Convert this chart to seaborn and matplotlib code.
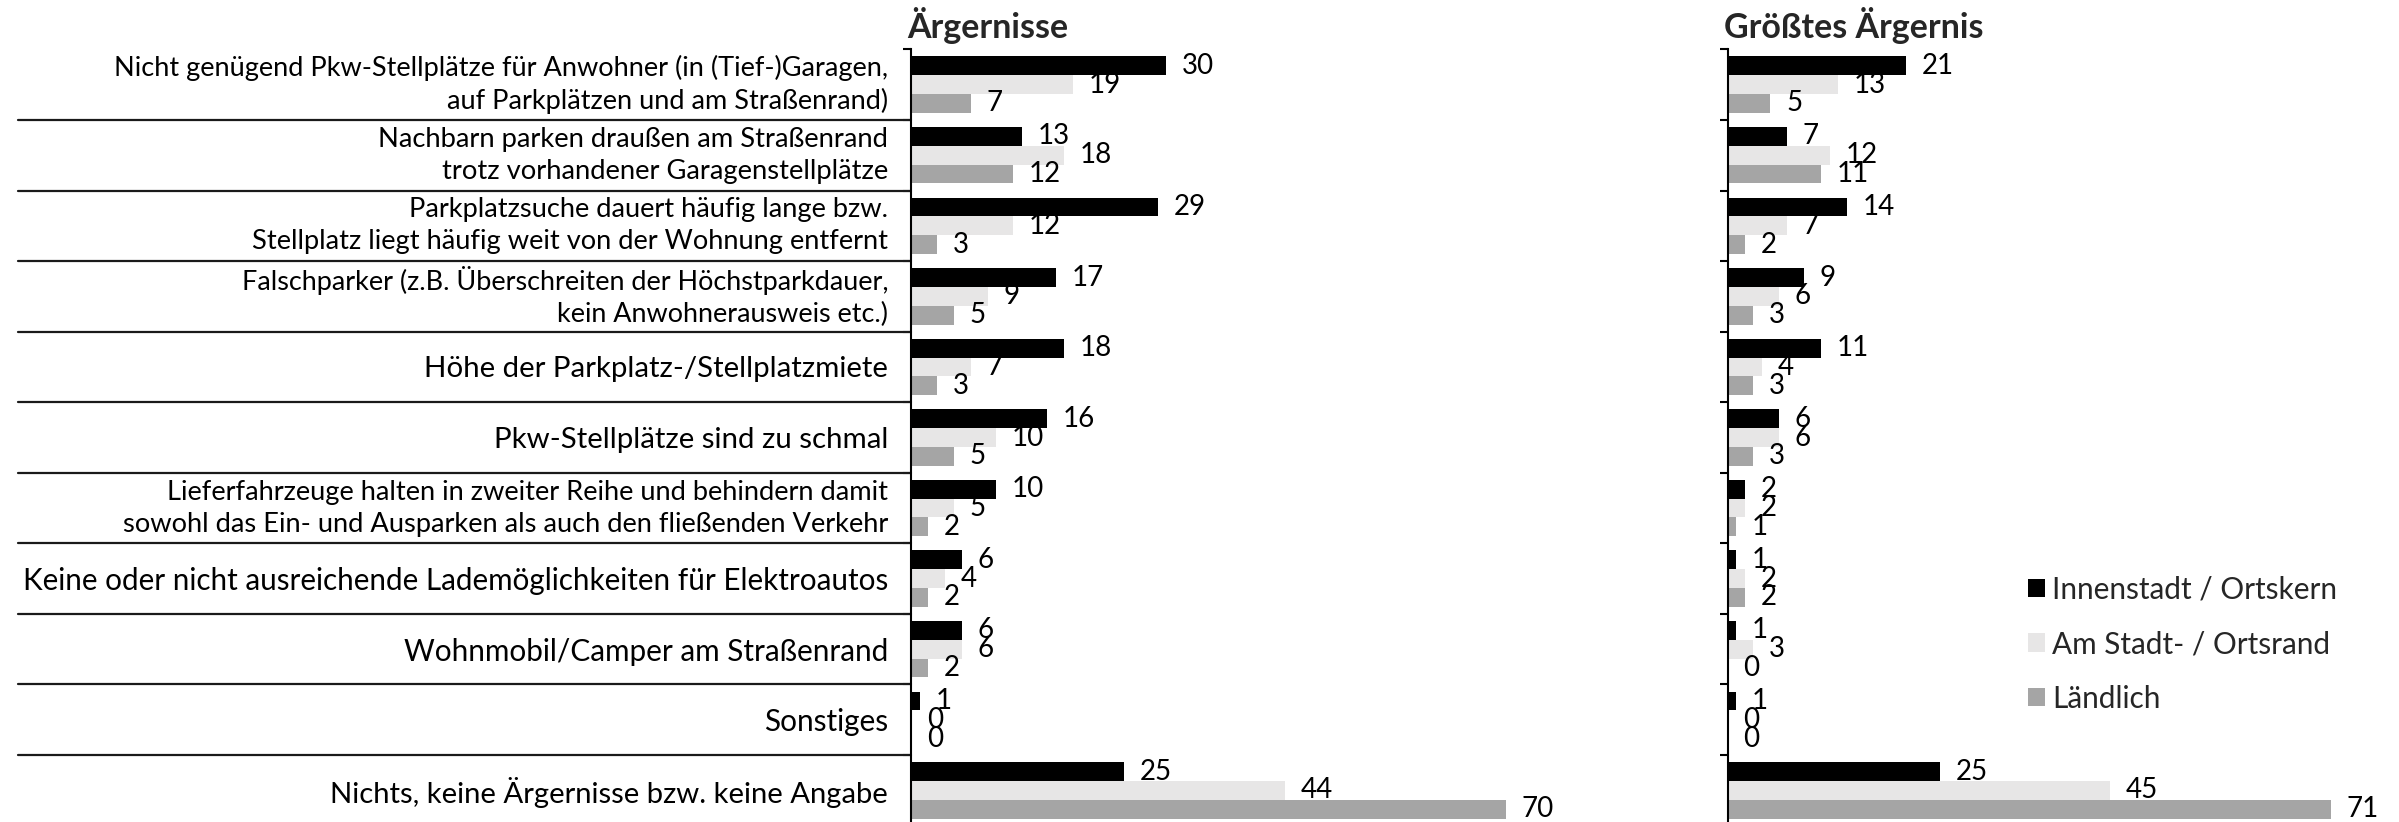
import numpy as np
import pandas as pd
import matplotlib
matplotlib.use("Agg")
import matplotlib.pyplot as plt
import matplotlib.transforms as mtransforms
import seaborn as sns

categories = [
    "Nicht genügend Pkw-Stellplätze für Anwohner (in (Tief-)Garagen,\nauf Parkplätzen und am Straßenrand)",
    "Nachbarn parken draußen am Straßenrand\ntrotz vorhandener Garagenstellplätze",
    "Parkplatzsuche dauert häufig lange bzw.\nStellplatz liegt häufig weit von der Wohnung entfernt",
    "Falschparker (z.B. Überschreiten der Höchstparkdauer,\nkein Anwohnerausweis etc.)",
    "Höhe der Parkplatz-/Stellplatzmiete",
    "Pkw-Stellplätze sind zu schmal",
    "Lieferfahrzeuge halten in zweiter Reihe und behindern damit\nsowohl das Ein- und Ausparken als auch den fließenden Verkehr",
    "Keine oder nicht ausreichende Lademöglichkeiten für Elektroautos",
    "Wohnmobil/Camper am Straßenrand",
    "Sonstiges",
    "Nichts, keine Ärgernisse bzw. keine Angabe",
]
series = ["Innenstadt / Ortskern", "Am Stadt- / Ortsrand", "Ländlich"]

aerger_innen = [30, 13, 29, 17, 18, 16, 10, 6, 6, 1, 25]
aerger_rand = [19, 18, 12, 9, 7, 10, 5, 4, 6, 0, 44]
aerger_land = [7, 12, 3, 5, 3, 5, 2, 2, 2, 0, 70]

groesst_innen = [21, 7, 14, 9, 11, 6, 2, 1, 1, 1, 25]
groesst_rand = [13, 12, 7, 6, 4, 6, 2, 2, 3, 0, 45]
groesst_land = [5, 11, 2, 3, 3, 3, 1, 2, 0, 0, 71]

titles = ["Ärgernisse", "Größtes Ärgernis"]
colors = ["#000000", "#E7E6E6", "#A5A5A5"]

# style: font size of each category label (as rendered in the reference)
label_sizes = [19.5, 19.7, 19.6, 19.45, 21.2, 21.2, 19.6, 21.3, 21.4, 21.4, 21.1]


def long_df(a, b, c):
    rows = []
    for s, vals in zip(series, [a, b, c]):
        for cat, v in zip(categories, vals):
            rows.append({"Kategorie": cat, "Region": s, "Wert": v})
    return pd.DataFrame(rows)


df1 = long_df(aerger_innen, aerger_rand, aerger_land)
df2 = long_df(groesst_innen, groesst_rand, groesst_land)

sns.set_theme(style="white")
plt.rcParams["font.family"] = ["Lato", "DejaVu Sans"]

W, H = 2399, 822
fig = plt.figure(figsize=(W / 100, H / 100), dpi=100)

px_per_unit = 8.5
xmax = 75
ax_w = xmax * px_per_unit / W
top_px, bot_px = 49.4, 825.6
ax_b = (H - bot_px) / H
ax_h = (bot_px - top_px) / H

ax1 = fig.add_axes([911 / W, ax_b, ax_w, ax_h])
ax2 = fig.add_axes([1727.5 / W, ax_b, ax_w, ax_h])

for ax, df, title in [(ax1, df1, titles[0]), (ax2, df2, titles[1])]:
    sns.barplot(data=df, y="Kategorie", x="Wert", hue="Region", orient="h",
                palette=colors, saturation=1, width=0.8, linewidth=0,
                order=categories, hue_order=series, ax=ax, legend=(ax is ax2))
    ax.set_xlim(0, xmax)
    ax.set_ylim(len(categories) - 0.5, -0.5)
    ax.xaxis.set_visible(False)
    for sp in ["top", "right", "bottom"]:
        ax.spines[sp].set_visible(False)
    ax.spines["left"].set_color("black")
    ax.spines["left"].set_linewidth(1.5)
    ax.set_ylabel("")
    ax.set_yticks(np.arange(-0.5, len(categories) + 0.5, 1), minor=True)
    ax.tick_params(axis="y", which="major", length=0, pad=16.5)
    ax.tick_params(axis="y", which="minor", length=6, width=1.5,
                   color="black", direction="out", left=True)
    for cont in ax.containers:
        ax.bar_label(cont, fmt="%.0f", padding=11.5, fontsize=20, color="black")
    ax.set_title(title, loc="left", pad=8, fontsize=24.5, fontweight="bold",
                 x=-0.006)

# category labels
for lbl, fs in zip(ax1.get_yticklabels(), label_sizes):
    lbl.set_fontsize(fs)
    lbl.set_color("black")
    lbl.set_linespacing(1.35)
    if "\n" in lbl.get_text():
        lbl.set_va("center")
ax2.tick_params(axis="y", which="major", labelleft=False)

# separator lines between categories (left panel)
trans = mtransforms.blended_transform_factory(fig.transFigure, ax1.transData)
for b in np.arange(0.5, len(categories) - 0.5, 1):
    ax1.plot([18 / W, 911 / W], [b, b], transform=trans, color="#1a1a1a",
             lw=1.6, clip_on=False)

# legend
handles, labels = ax2.get_legend_handles_labels()
ax2.get_legend().remove()
fig.legend(handles, labels, loc="center left",
           bbox_to_anchor=(2028 / W, 1 - 644 / H), frameon=False,
           fontsize=21.4, handlelength=0.57, handleheight=0.57,
           handletextpad=0.25, labelspacing=0.9, borderpad=0, borderaxespad=0)

fig.savefig("out.png", dpi=100)
